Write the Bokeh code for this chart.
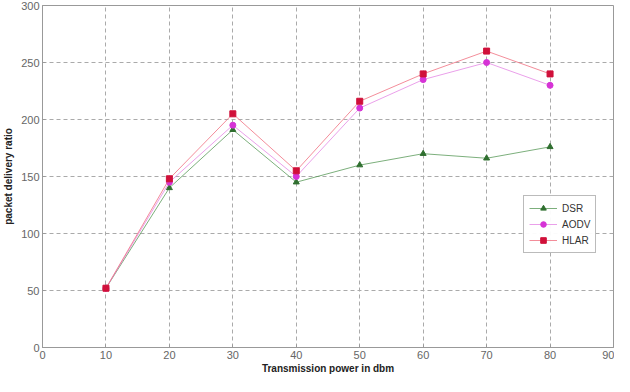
from bokeh.plotting import figure
from bokeh.embed import file_html
from bokeh.resources import INLINE
from bokeh.models import Range1d, FixedTicker, Legend, LegendItem

x = [10, 20, 30, 40, 50, 60, 70, 80]
dsr = [52, 140, 191, 145, 160, 170, 166, 176]
aodv = [52, 145, 195, 150, 210, 235, 250, 230]
hlar = [52, 148, 205, 155, 216, 240, 260, 240]
x_ticks = [0, 10, 20, 30, 40, 50, 60, 70, 80, 90]
y_ticks = [0, 50, 100, 150, 200, 250, 300]

p = figure(width=614, height=376, output_backend="svg", toolbar_location=None,
           x_range=Range1d(0, 90), y_range=Range1d(0, 300),
           min_border_left=33, min_border_right=1, min_border_top=5, min_border_bottom=27)
p.outline_line_color = "#999999"
p.background_fill_color = "white"

for ax in (p.xaxis[0], p.yaxis[0]):
    ax.major_label_text_font = "Liberation Sans"
    ax.major_label_text_font_size = "11px"
    ax.major_label_text_color = "#666666"
    ax.axis_line_color = "#999999"
    ax.major_tick_line_color = "#999999"
    ax.major_tick_in = 3
    ax.major_tick_out = 0
    ax.minor_tick_line_color = None
    ax.axis_label_text_font = "Liberation Sans"
    ax.axis_label_text_font_size = "10px"
    ax.axis_label_text_font_style = "bold"
    ax.axis_label_text_color = "#222222"

p.xaxis.ticker = FixedTicker(ticks=x_ticks)
p.yaxis.ticker = FixedTicker(ticks=y_ticks)
p.xaxis.axis_label = "Transmission power in dbm"
p.yaxis.axis_label = "packet delivery ratio"
p.xaxis.axis_label_standoff = 1
p.yaxis.axis_label_standoff = 4
p.xaxis.major_label_standoff = 3
p.yaxis.major_label_standoff = 3

p.grid.grid_line_color = "#aaaaaa"
p.grid.grid_line_dash = "4 3"
p.grid.grid_line_width = 1

g_col = "#2f6f2f"
m_col = "#d633d6"
r_col = "#d0103a"

l1 = p.line(x, dsr, line_color="#5a9a5a", line_width=0.8)
s1 = p.scatter(x, dsr, marker="triangle", size=6, fill_color=g_col, line_color=g_col)
l2 = p.line(x, aodv, line_color="#e488e4", line_width=0.8)
s2 = p.scatter(x, aodv, marker="circle", size=6, fill_color=m_col, line_color=m_col)
l3 = p.line(x, hlar, line_color="#f07080", line_width=0.8)
s3 = p.scatter(x, hlar, marker="square", size=6, fill_color=r_col, line_color=r_col)

legend = Legend(items=[
    LegendItem(label="DSR", renderers=[l1, s1]),
    LegendItem(label="AODV", renderers=[l2, s2]),
    LegendItem(label="HLAR", renderers=[l3, s3]),
], location=(481, 94))
legend.label_text_font = "Liberation Sans"
legend.label_text_font_size = "10px"
legend.label_text_color = "#333333"
legend.border_line_color = "#777777"
legend.glyph_width = 28
legend.glyph_height = 14
legend.spacing = 2
legend.padding = 5
legend.margin = 0
legend.label_height = 14
p.add_layout(legend)

open("out.html", "w").write(file_html(p, INLINE))
